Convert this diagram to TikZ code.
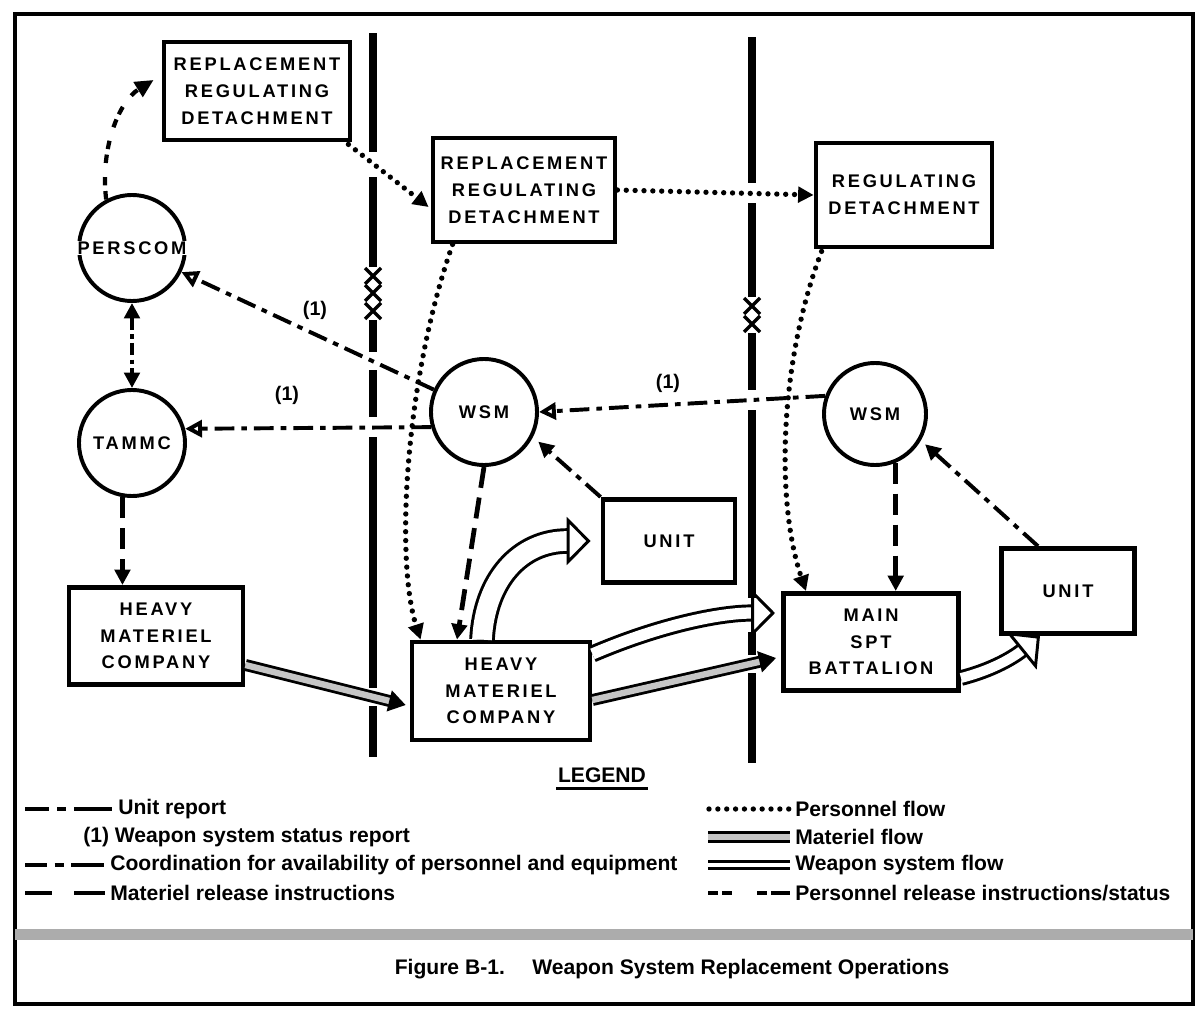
\documentclass[tikz,border=0pt]{standalone}
\usepackage{fontspec}
\setmainfont{Liberation Sans}
\newfontfamily\boxfont[LetterSpace=15]{Liberation Sans}
\usetikzlibrary{arrows.meta}
\setlength{\fboxsep}{0.5pt}

\begin{document}
\begin{tikzpicture}[x=0.025cm,y=-0.025cm,>={Triangle[length=11pt,width=11pt]},
  box/.style={draw,line width=3.4pt,align=center,inner sep=0pt,font=\boxfont\bfseries\fontsize{13}{19}\selectfont},
  org/.style={draw,circle,line width=2.8pt,minimum size=2.65cm,inner sep=0pt,font=\boxfont\bfseries\fontsize{13}{15}\selectfont},
  bar/.style={line width=5.6pt},
  unitrep/.style={line width=2.8pt,dash pattern=on 14pt off 5pt on 4pt off 5pt},
  coord/.style={line width=3pt,dash pattern=on 9pt off 3pt on 3pt off 3pt},
  matrel/.style={line width=3.4pt,dash pattern=on 15pt off 7pt},
  persflow/.style={line width=3.8pt,line cap=round,dash pattern=on 0pt off 6.3pt},
  persrel/.style={line width=3pt,dash pattern=on 6pt off 4pt on 6pt off 10pt},
  matflow/.style={line width=2pt,double=gray!45,double distance=4.5pt,-{Triangle[length=12pt,width=15pt]}},
  wpnflow/.style={line width=2.1pt,double=white,double distance=#1,-{Triangle[open,length=17pt,width=34pt]}},
  lbl/.style={font=\bfseries\fontsize{14}{16}\selectfont,inner sep=1pt},
  lgtext/.style={font=\bfseries\fontsize{15}{17}\selectfont,inner sep=0pt,anchor=west}]
\useasboundingbox (0,0) rectangle (1198,1019);
\draw[line width=2.6pt] (15,14) rectangle (1193,1004);
\fill[gray!65] (15,929) rectangle (1193,940);

\foreach \ya/\yb in {33/152,177/267,320/352,370/417,437/688,706/757} \draw[bar] (373,\ya) -- (373,\yb);
\foreach \ya/\yb in {37/183,203/297,333/390,410/598,632/655,673/763} \draw[bar] (752,\ya) -- (752,\yb);
\foreach \yc in {276,293,311} \draw[line width=2.4pt] (365,\yc-8) -- (381,\yc+8) (365,\yc+8) -- (381,\yc-8);
\foreach \yc in {306,324} \draw[line width=2.4pt] (744,\yc-8) -- (760,\yc+8) (744,\yc+8) -- (760,\yc-8);

\node[box,minimum width=4.65cm,minimum height=2.45cm] (rrdA) at (257,91) {REPLACEMENT\\REGULATING\\DETACHMENT};
\node[box,minimum width=4.55cm,minimum height=2.6cm] (rrdB) at (524,190) {REPLACEMENT\\REGULATING\\DETACHMENT};
\node[box,minimum width=4.4cm,minimum height=2.6cm] (rrdC) at (904,195) {REGULATING\\DETACHMENT};
\node[org] (perscom) at (132,248) {\makebox[0pt]{\colorbox{white}{PERSCOM}}};
\node[org] (tammc) at (132,443) {TAMMC};
\node[org] (wsmA) at (484,412) {WSM};
\node[org,minimum size=2.55cm] (wsmB) at (875,414) {WSM};
\node[box,minimum width=3.3cm,minimum height=2.08cm] (unitA) at (669,541) {UNIT};
\node[box,minimum width=3.33cm,minimum height=2.12cm] (unitB) at (1068,591) {UNIT};
\node[box,minimum width=4.35cm,minimum height=2.43cm] (hmcA) at (156,636) {HEAVY\\MATERIEL\\COMPANY};
\node[box,minimum width=4.45cm,minimum height=2.45cm] (hmcB) at (501,691) {HEAVY\\MATERIEL\\COMPANY};
\node[box,minimum width=4.38cm,minimum height=2.43cm] (msb) at (871,642) {MAIN\\SPT\\BATTALION};

\draw[persrel,-{Triangle[length=13pt,width=12pt]}] (perscom.118) .. controls (100,150) and (118,102) .. ([shift={(-8,-11)}]rrdA.west);
\draw[persflow,->] ([shift={(-4,2)}]rrdA.south east) -- ([shift={(-2,17)}]rrdB.west);
\draw[persflow,->] (rrdB.east) -- (rrdC.west);
\draw[persflow,->] ([shift={(22,0)}]rrdB.south west) .. controls (405,380) and (395,560) .. ([shift={(11,0)}]hmcB.north west);
\draw[persflow,->] ([shift={(8,2)}]rrdC.south west) .. controls (780,360) and (775,500) .. ([shift={(25,0)}]msb.north west);

\draw[unitrep,-{Triangle[open,length=12pt,width=12pt]}] (wsmA.156) -- (perscom.-26);
\draw[unitrep,-{Triangle[open,length=12pt,width=12pt]}] (wsmA.196) -- (tammc.15);
\draw[unitrep,-{Triangle[open,length=12pt,width=12pt]}] (wsmB.160) -- (wsmA.east);
\draw[unitrep,->,shorten >=5pt] (unitA.north west) -- (wsmA.-27);
\draw[unitrep,->,shorten >=4pt] ([shift={(-30,0)}]unitB.north) -- (wsmB.-30);
\node[lbl] (oneA) at (315,310) {(1)};
\node[lbl] (oneB) at (287,395) {(1)};
\node[lbl] (oneC) at (668,383) {(1)};

\draw[coord,<->] (perscom.south) -- (tammc.north);
\draw[matrel,->] (tammc.260) -- (tammc.260 |- hmcA.north);
\draw[matrel,->] (wsmA.south) -- ([shift={(-44,0)}]hmcB.north);
\draw[matrel,->] (wsmB.-67) -- (wsmB.-67 |- msb.north);

\draw[matflow] ([shift={(0,29)}]hmcA.east) -- ([shift={(-4,14)}]hmcB.west);
\draw[matflow] ([shift={(0,9)}]hmcB.east) -- ([shift={(-5,16)}]msb.west);
\draw[wpnflow=14pt] ([shift={(-19,0)}]hmcB.north) .. controls (485,580) and (520,541) .. ([shift={(-10,0)}]unitA.west);
\draw[wpnflow=8pt] ([shift={(0,-37)}]hmcB.east) .. controls (660,625) and (720,613) .. ([shift={(-6,-29)}]msb.west);
\draw[wpnflow=7pt] ([shift={(0,36)}]msb.east) .. controls (1000,668) and (1020,652) .. ([shift={(-28,0)}]unitB.south);

\node[font=\bfseries\fontsize{15}{17}\selectfont,inner sep=1pt] (legend) at (602,775) {LEGEND};
\draw[line width=2pt] ([yshift=-3pt]legend.south west) -- ([yshift=-3pt]legend.south east);
\node[lgtext] (lgA) at (118,809) {Unit report};
\node[lgtext] (lgB) at (83,837) {(1) Weapon system status report};
\node[lgtext] (lgC) at (110,865) {Coordination for availability of personnel and equipment};
\node[lgtext] (lgD) at (110,893) {Materiel release instructions};
\node[lgtext] (lgE) at (795,809) {Personnel flow};
\node[lgtext] (lgF) at (795,837) {Materiel flow};
\node[lgtext] (lgG) at (795,865) {Weapon system flow};
\node[lgtext] (lgH) at (795,893) {Personnel release instructions/status};
\draw[line width=2.4pt,dash pattern=on 17pt off 6pt on 6pt off 6pt on 30pt off 0pt] ([shift={(-93,0)}]lgA.west) -- ([shift={(-6,0)}]lgA.west);
\draw[line width=3.4pt,dash pattern=on 16pt off 5pt on 7pt off 5pt on 22pt off 0pt] ([shift={(-85,0)}]lgC.west) -- ([shift={(-6,0)}]lgC.west);
\draw[line width=3.4pt,dash pattern=on 19pt off 16pt on 21pt off 0pt] ([shift={(-85,0)}]lgD.west) -- ([shift={(-6,0)}]lgD.west);
\draw[persflow] ([shift={(-86,0)}]lgE.west) -- ([shift={(-5,0)}]lgE.west);
\draw[line width=2pt,double=gray!45,double distance=4pt] ([shift={(-87,0)}]lgF.west) -- ([shift={(-5,0)}]lgF.west);
\draw[line width=2pt,double=white,double distance=3pt] ([shift={(-87,0)}]lgG.west) -- ([shift={(-5,0)}]lgG.west);
\draw[line width=3.4pt,dash pattern=on 7pt off 3pt on 7pt off 18pt on 7pt off 3pt on 7pt off 0pt] ([shift={(-87,0)}]lgH.west) -- ([shift={(-5,0)}]lgH.west);

\node[font=\bfseries\fontsize{15}{18}\selectfont] (caption) at (672,969) {Figure B-1.\hspace{1.3em}Weapon System Replacement Operations};
\end{tikzpicture}
\end{document}
